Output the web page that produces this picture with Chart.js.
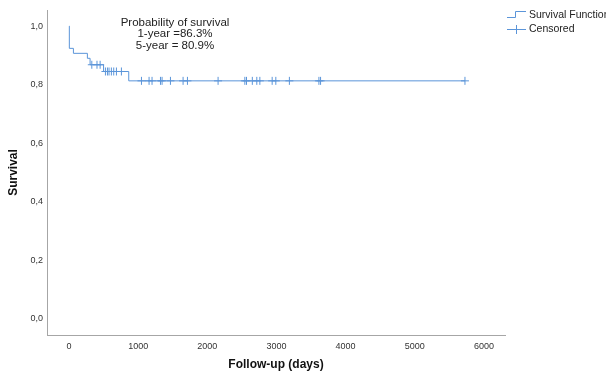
<!DOCTYPE html>
<html>
<head>
<meta charset="utf-8">
<script src="https://cdn.jsdelivr.net/npm/chart.js@4"></script>
<style>
  html, body { margin: 0; padding: 0; background: #fff; }
  #wrap { width: 606px; height: 375px; }
</style>
</head>
<body>
<div id="wrap"><canvas id="kmChart" width="606" height="375"></canvas></div>
<script>
// Kaplan-Meier steps (event times in days, survival after the event)
var stepDays = [0, 5, 64, 266, 305, 500, 864];
var stepSurv = [1.0, 0.924, 0.907, 0.890, 0.868, 0.845, 0.813];

// censored follow-up times (days)
var censorDays = [330, 405, 450, 527, 556, 579, 613, 647, 686, 758,
    1048, 1158, 1201, 1323, 1346, 1467, 1650, 1713, 2156, 2543, 2567,
    2651, 2716, 2760, 2938, 2991, 3187, 3614, 3638, 5726];

var xTicks = [0, 1000, 2000, 3000, 4000, 5000, 6000];
var yTicks = [0, 0.2, 0.4, 0.6, 0.8, 1.0];

var annotationLines = ['Probability of survival', '1-year =86.3%', '5-year = 80.9%'];
var legendLabels = ['Survival Function', 'Censored'];

var lineBlue = '#5b95d9';

function survAt(t) {
    var s = stepSurv[0];
    for (var i = 0; i < stepDays.length; i++) {
        if (stepDays[i] <= t) s = stepSurv[i];
    }
    return s;
}

var stepPoints = stepDays.map(function (d, i) { return {x: d, y: stepSurv[i]}; });
// carry the last level out to the last follow-up
stepPoints.push({x: censorDays[censorDays.length - 1], y: stepSurv[stepSurv.length - 1]});

var censorPoints = censorDays.map(function (d) { return {x: d, y: survAt(d)}; });

var extras = {
    id: 'extras',
    afterDraw: function (chart) {
        var ctx = chart.ctx;
        ctx.save();
        // text box in the plot
        ctx.fillStyle = '#222';
        ctx.font = '11.5px "Liberation Sans", Arial, sans-serif';
        ctx.textAlign = 'center';
        ctx.textBaseline = 'middle';
        annotationLines.forEach(function (txt, i) {
            ctx.fillText(txt, 175, 22.5 + i * 11.5);
        });

        // legend
        ctx.strokeStyle = lineBlue;
        ctx.lineWidth = 1;
        ctx.beginPath();
        ctx.moveTo(507, 17.5);
        ctx.lineTo(515.5, 17.5);
        ctx.lineTo(515.5, 11.5);
        ctx.lineTo(526, 11.5);
        ctx.stroke();
        ctx.beginPath();
        ctx.moveTo(507, 29.5);
        ctx.lineTo(526, 29.5);
        ctx.moveTo(516.5, 25);
        ctx.lineTo(516.5, 34);
        ctx.stroke();

        ctx.fillStyle = '#222';
        ctx.font = '10.5px "Liberation Sans", Arial, sans-serif';
        ctx.textAlign = 'left';
        ctx.fillText(legendLabels[0], 529, 15);
        ctx.fillText(legendLabels[1], 529, 29);
        ctx.restore();
    }
};

var ctx = document.getElementById('kmChart').getContext('2d');
var kmChart = new Chart(ctx, {
    type: 'scatter',
    data: {
        datasets: [{
            label: legendLabels[0],
            type: 'line',
            data: stepPoints,
            stepped: 'before',
            borderColor: lineBlue,
            borderWidth: 1,
            pointRadius: 0,
            fill: false
        }, {
            label: legendLabels[1],
            data: censorPoints,
            pointStyle: 'cross',
            pointRadius: 4,
            borderColor: lineBlue,
            borderWidth: 1,
            backgroundColor: lineBlue
        }]
    },
    options: {
        responsive: false,
        animation: false,
        layout: {padding: {left: 0, right: 101, top: 10, bottom: 0}},
        plugins: {
            legend: {display: false},
            tooltip: {enabled: false}
        },
        scales: {
            x: {
                type: 'linear',
                min: -318,
                max: 6305,
                grid: {display: false, drawTicks: false},
                border: {display: true, color: '#a6a6a6', width: 1},
                afterBuildTicks: function (scale) {
                    scale.ticks = xTicks.map(function (v) { return {value: v}; });
                },
                afterFit: function (scale) { scale.height = 40; },
                ticks: {
                    padding: 6,
                    color: '#333',
                    font: {family: '"Liberation Sans", Arial, sans-serif', size: 9},
                    maxRotation: 0,
                    callback: function (v) { return String(v); }
                },
                title: {
                    display: true,
                    text: 'Follow-up (days)',
                    color: '#111',
                    padding: {top: 0, bottom: 3},
                    font: {family: '"Liberation Sans", Arial, sans-serif', size: 12, weight: 'bold'}
                }
            },
            y: {
                min: -0.055,
                max: 1.055,
                grid: {display: false, drawTicks: false},
                border: {display: true, color: '#a6a6a6', width: 1},
                afterBuildTicks: function (scale) {
                    scale.ticks = yTicks.map(function (v) { return {value: v}; });
                },
                afterFit: function (scale) { scale.width = 47; },
                ticks: {
                    padding: 4,
                    color: '#333',
                    font: {family: '"Liberation Sans", Arial, sans-serif', size: 9},
                    callback: function (v) { return v.toFixed(1).replace('.', ','); }
                },
                title: {
                    display: true,
                    text: 'Survival',
                    color: '#111',
                    padding: {top: 6, bottom: 0},
                    font: {family: '"Liberation Sans", Arial, sans-serif', size: 12, weight: 'bold'}
                }
            }
        }
    },
    plugins: [extras]
});
</script>
</body>
</html>
